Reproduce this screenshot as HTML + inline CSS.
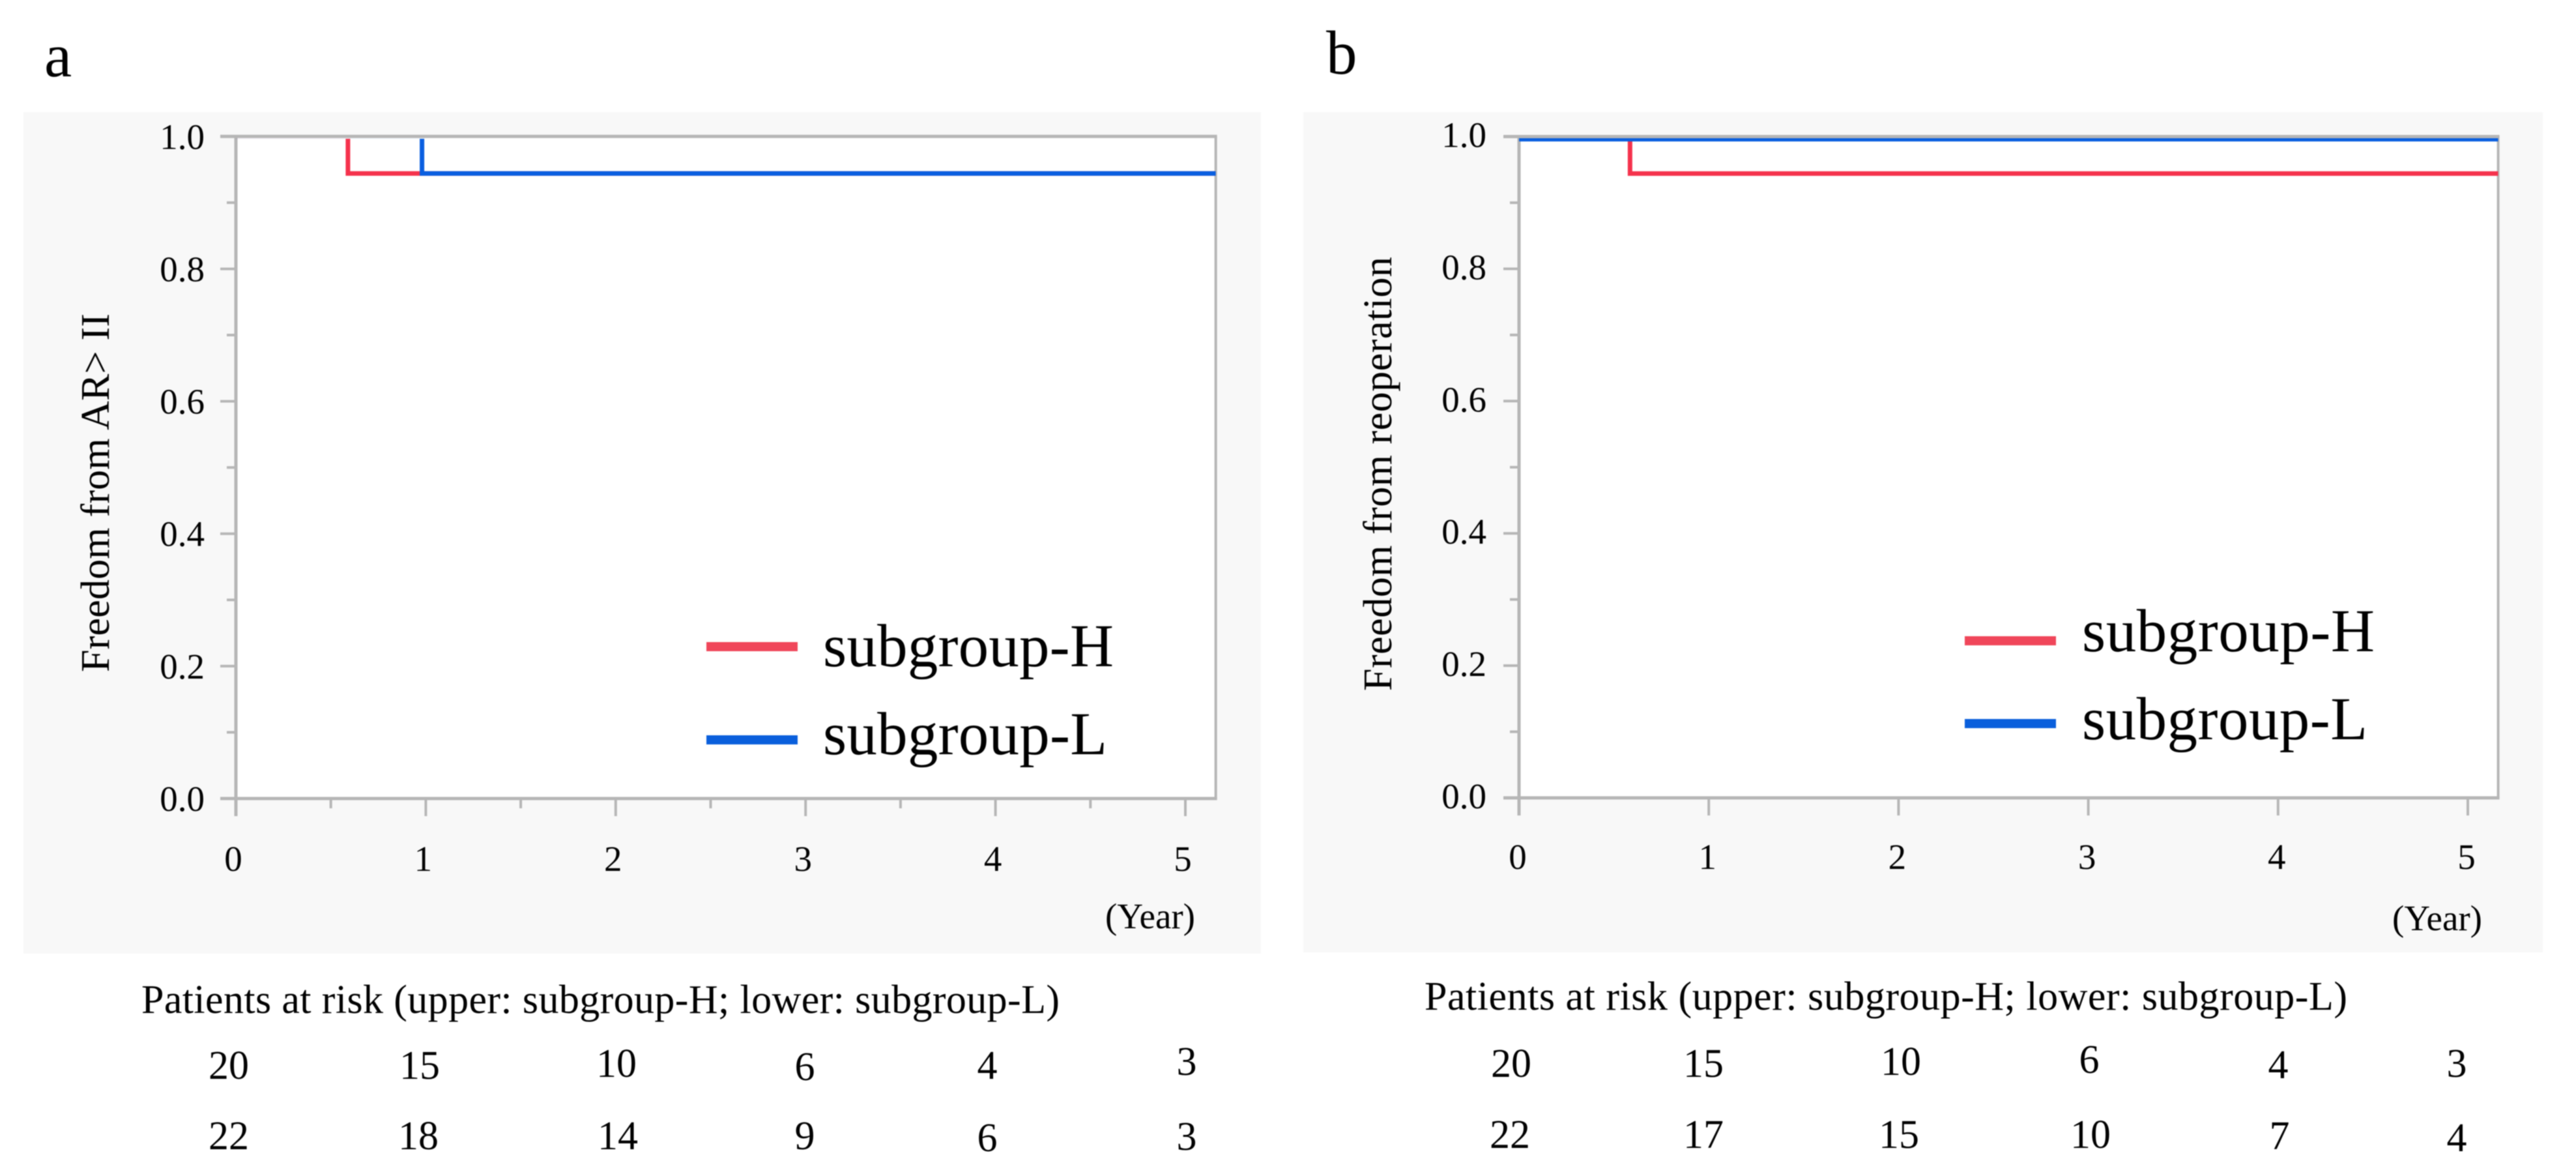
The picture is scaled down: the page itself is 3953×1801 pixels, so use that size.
<!DOCTYPE html>
<html lang="en">
<head>
<meta charset="utf-8">
<title>Kaplan-Meier curves: subgroup-H and subgroup-L</title>
<style>
  html, body { margin: 0; padding: 0; background: #ffffff; }
  body { width: 3953px; height: 1801px; overflow: hidden; }
  svg { display: block; filter: blur(0.7px); }
  text { font-family: "Liberation Serif", serif; fill: #000000; }
  .risk { font-size: 62px; text-anchor: middle; }
  .legend-text { font-size: 93px; }
  .panel-letter { font-size: 95px; }
  .year { font-size: 55px; }
  .risk-title { font-size: 62px; }
</style>
</head>
<body>
<svg id="figure" xmlns="http://www.w3.org/2000/svg" width="3953" height="1801" viewBox="0 0 3953 1801">
  <rect x="0" y="0" width="3953" height="1801" fill="#ffffff"/>

  <text class="panel-letter" x="68" y="117">a</text>
  <text class="panel-letter" x="2035" y="113">b</text>

  <rect x="36" y="172" width="1899" height="1291" fill="#f8f8f8"/>
  <rect x="2000" y="172" width="1902" height="1289" fill="#f8f8f8"/>

  <g id="chart-a"></g>
  <g id="chart-b"></g>

  <text font-size="62" x="167" y="1031" transform="rotate(-90 167 1031)" textLength="550">Freedom from AR&gt; II</text>
  <text font-size="62" x="2135" y="1060" transform="rotate(-90 2135 1060)" textLength="666">Freedom from reoperation</text>

  <text class="year" x="1696" y="1424">(Year)</text>
  <text class="year" x="3671" y="1427">(Year)</text>

  <g>
    <rect x="1084" y="985" width="140" height="14" fill="#f0465a"/>
    <text class="legend-text" x="1263" y="1022" textLength="446">subgroup-H</text>
    <rect x="1084" y="1128" width="140" height="14" fill="#0a5fdc"/>
    <text class="legend-text" x="1263" y="1157" textLength="436">subgroup-L</text>
  </g>
  <g>
    <rect x="3015" y="976" width="140" height="14" fill="#f0465a"/>
    <text class="legend-text" x="3195" y="999" textLength="449">subgroup-H</text>
    <rect x="3015" y="1103" width="140" height="14" fill="#0a5fdc"/>
    <text class="legend-text" x="3195" y="1134" textLength="438">subgroup-L</text>
  </g>

  <text class="risk-title" x="217" y="1554" textLength="1409">Patients at risk (upper: subgroup-H; lower: subgroup-L)</text>
  <text class="risk-title" x="2186" y="1549" textLength="1416">Patients at risk (upper: subgroup-H; lower: subgroup-L)</text>

  <g>
    <text class="risk" x="351" y="1655">20</text>
    <text class="risk" x="644" y="1655">15</text>
    <text class="risk" x="946" y="1652">10</text>
    <text class="risk" x="1235" y="1657">6</text>
    <text class="risk" x="1515" y="1655">4</text>
    <text class="risk" x="1821" y="1649">3</text>
    <text class="risk" x="351" y="1763">22</text>
    <text class="risk" x="642" y="1763">18</text>
    <text class="risk" x="948" y="1763">14</text>
    <text class="risk" x="1235" y="1763">9</text>
    <text class="risk" x="1515" y="1766">6</text>
    <text class="risk" x="1821" y="1764">3</text>
  </g>
  <g>
    <text class="risk" x="2319" y="1652">20</text>
    <text class="risk" x="2614" y="1652">15</text>
    <text class="risk" x="2917" y="1649">10</text>
    <text class="risk" x="3206" y="1646">6</text>
    <text class="risk" x="3496" y="1654">4</text>
    <text class="risk" x="3770" y="1652">3</text>
    <text class="risk" x="2317" y="1761">22</text>
    <text class="risk" x="2614" y="1761">17</text>
    <text class="risk" x="2914" y="1761">15</text>
    <text class="risk" x="3208" y="1761">10</text>
    <text class="risk" x="3498" y="1763">7</text>
    <text class="risk" x="3770" y="1766">4</text>
  </g>
</svg>

<script>
// Shared axis values
const xTickValues = [0, 1, 2, 3, 4, 5];
const xMinorTickValues = [0.5, 1.5, 2.5, 3.5, 4.5];
const yTickValues = [0, 0.2, 0.4, 0.6, 0.8, 1];
const yTickLabels = ['0.0', '0.2', '0.4', '0.6', '0.8', '1.0'];
const yMinorTickValues = [0.1, 0.3, 0.5, 0.7, 0.9];
const xAxisMax = 5.16;

// Panel a: freedom from AR > II
const panelAYearsH = [0, 0.59, 5.16];
const panelASurvivalH = [1, 0.944, 0.944];
const panelAYearsL = [0, 0.98, 5.16];
const panelASurvivalL = [1, 0.944, 0.944];

// Panel b: freedom from reoperation
const panelBYearsH = [0, 0.585, 5.16];
const panelBSurvivalH = [1, 0.944, 0.944];
const panelBYearsL = [0, 5.16];
const panelBSurvivalL = [0.996, 0.996];

const SVG_NS = 'http://www.w3.org/2000/svg';
const AXIS_COLOR = '#b6b6b6';
const RED = '#f5324c';
const BLUE = '#0a5fe0';

function make(tag, parent, props) {
  const el = document.createElementNS(SVG_NS, tag);
  for (const key in props) {
    el.setAttribute(key, props[key]);
  }
  parent.appendChild(el);
  return el;
}

function stepPath(years, survival, x, y) {
  let d = 'M' + x(years[0]) + ' ' + y(survival[0]);
  for (let i = 1; i < years.length; i++) {
    d += ' H' + x(years[i]) + ' V' + y(survival[i]);
  }
  return d;
}

function drawChart(rootId, layout, seriesH, seriesL) {
  const root = document.getElementById(rootId);
  const x = function (t) { return layout.x0 + t * layout.pxPerYear; };
  const y = function (s) { return layout.y0 - s * (layout.y0 - layout.y1); };
  const right = x(xAxisMax);

  const plot = make('rect', root, { x: x(0), y: y(1), width: right - x(0), height: y(0) - y(1), fill: '#ffffff' });
  
  

  const frame = make('g', root, { stroke: AXIS_COLOR, fill: 'none' });
  
  
  const top = make('line', frame, { x1: x(0) - 24, x2: right + 2, y1: y(1), y2: y(1), 'stroke-width': 5 });
  
  
  const bottom = make('line', frame, { x1: x(0) - 24, x2: right + 2, y1: y(0), y2: y(0), 'stroke-width': 5 });
  
  
  const left = make('line', frame, { x1: x(0), x2: x(0), y1: y(1), y2: y(0) + 27, 'stroke-width': 5 });
  
  
  const rightEdge = make('line', frame, { x1: right, x2: right, y1: y(1), y2: y(0), 'stroke-width': 4 });
  
  

  // Y ticks
  yTickValues.forEach(function (v, i) {
    const tick = make('line', root, { x1: x(0) - 24, x2: x(0), y1: y(v), y2: y(v), stroke: AXIS_COLOR, 'stroke-width': 4 });
    
    
    const label = make('text', root, { x: layout.yLabelRight, y: y(v) + layout.yLabelDy, 'font-size': 55, 'text-anchor': 'end' });
    label.textContent = yTickLabels[i];
    
    
  });
  yMinorTickValues.forEach(function (v) {
    const tick = make('line', root, { x1: x(0) - 14, x2: x(0), y1: y(v), y2: y(v), stroke: AXIS_COLOR, 'stroke-width': 4 });
    
    
  });

  // X ticks
  xTickValues.forEach(function (v) {
    const tick = make('line', root, { x1: x(v), x2: x(v), y1: y(0), y2: y(0) + 27, stroke: AXIS_COLOR, 'stroke-width': 4 });
    
    
    const label = make('text', root, { x: x(v) + layout.xLabelDx, y: y(0) + layout.xLabelDy, 'font-size': 55, 'text-anchor': 'middle' });
    label.textContent = String(v);
    
    
  });
  if (layout.showXMinor) {
    xMinorTickValues.forEach(function (v) {
      const tick = make('line', root, { x1: x(v), x2: x(v), y1: y(0), y2: y(0) + 15, stroke: AXIS_COLOR, 'stroke-width': 4 });
      
      
    });
  }

  // Curves are clipped to the inside of the frame, so a value of 1.0 hides behind the top axis
  const clipId = rootId + '-clip';
  const clip = make('clipPath', root, { id: clipId });
  make('rect', clip, { x: x(0), y: y(1) + layout.clipInset, width: right - x(0), height: y(0) - y(1) });
  const curves = make('g', root, { 'clip-path': 'url(#' + clipId + ')' });
  
  

  const curveH = make('path', curves, { d: stepPath(seriesH.years, seriesH.survival, x, y), fill: 'none', stroke: RED, 'stroke-width': 7, 'stroke-linejoin': 'miter' });
  
  
  const curveL = make('path', curves, { d: stepPath(seriesL.years, seriesL.survival, x, y), fill: 'none', stroke: BLUE, 'stroke-width': 7, 'stroke-linejoin': 'miter' });
  
  
}

drawChart('chart-a',
  { x0: 362, pxPerYear: 291.4, y0: 1225, y1: 209.3, yLabelRight: 314, yLabelDy: 19, xLabelDx: -4, xLabelDy: 111, showXMinor: true, clipInset: 3.6 },
  { years: panelAYearsH, survival: panelASurvivalH },
  { years: panelAYearsL, survival: panelASurvivalL });

drawChart('chart-b',
  { x0: 2331, pxPerYear: 291.2, y0: 1224, y1: 209.5, yLabelRight: 2281, yLabelDy: 16, xLabelDx: -2, xLabelDy: 109, showXMinor: false, clipInset: 2.5 },
  { years: panelBYearsH, survival: panelBSurvivalH },
  { years: panelBYearsL, survival: panelBSurvivalL });
</script>
</body>
</html>
